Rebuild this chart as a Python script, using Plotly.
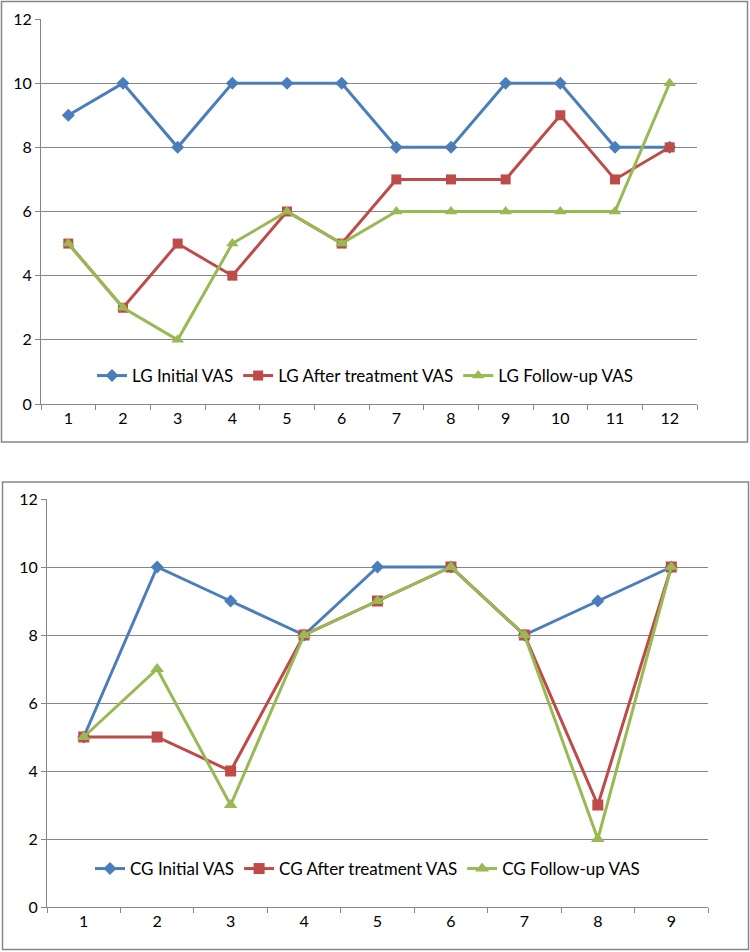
import plotly.graph_objects as go

lg_categories = [str(i) for i in range(1, 13)]
lg_initial = [9, 10, 8, 10, 10, 10, 8, 8, 10, 10, 8, 8]
lg_after = [5, 3, 5, 4, 6, 5, 7, 7, 7, 9, 7, 8]
lg_follow = [5, 3, 2, 5, 6, 5, 6, 6, 6, 6, 6, 10]

cg_categories = [str(i) for i in range(1, 10)]
cg_initial = [5, 10, 9, 8, 10, 10, 8, 9, 10]
cg_after = [5, 5, 4, 8, 9, 10, 8, 3, 10]
cg_follow = [5, 7, 3, 8, 9, 10, 8, 2, 10]

W, H = 750, 952
BLUE, RED, GREEN = "#4A7EBB", "#BE4B48", "#98B954"
GREY = "#868686"
FONT = "Lato, Carlito, sans-serif"


def px(x):
    return x / W


def py(y):
    return 1 - y / H


fig = go.Figure()

series_top = [("LG Initial VAS", lg_initial, BLUE, "diamond", 10),
              ("LG After treatment VAS", lg_after, RED, "square", 10),
              ("LG Follow-up VAS", lg_follow, GREEN, "triangle-up", 11)]
series_bot = [("CG Initial VAS", cg_initial, BLUE, "diamond", 10),
              ("CG After treatment VAS", cg_after, RED, "square", 11),
              ("CG Follow-up VAS", cg_follow, GREEN, "triangle-up", 12)]

for name, vals, col, sym, size in series_top:
    fig.add_trace(go.Scatter(x=lg_categories, y=vals, name=name, mode="lines+markers",
                             line=dict(color=col, width=3),
                             marker=dict(symbol=sym, size=size, color=col),
                             xaxis="x", yaxis="y", legend="legend"))
for name, vals, col, sym, size in series_bot:
    fig.add_trace(go.Scatter(x=cg_categories, y=vals, name=name, mode="lines+markers",
                             line=dict(color=col, width=3),
                             marker=dict(symbol=sym, size=size, color=col),
                             xaxis="x2", yaxis="y2", legend="legend2"))

axis_common = dict(showline=True, linecolor=GREY, linewidth=1, ticks="outside",
                   tickcolor=GREY, ticklen=5, automargin=False,
                   tickfont=dict(family=FONT, size=16, color="#000"))

legend_common = dict(orientation="h", xanchor="left", yanchor="middle",
                     bgcolor="rgba(255,255,255,0)", font=dict(family=FONT, size=17),
                     itemwidth=30, tracegroupgap=0)

fig.update_layout(
    template="none",
    width=W, height=H, autosize=False,
    margin=dict(l=0, r=0, t=0, b=0, pad=0, autoexpand=False),
    paper_bgcolor="white", plot_bgcolor="white",
    font=dict(family=FONT, size=16, color="#000"),
    xaxis=dict(domain=[px(41), px(697)], anchor="y", type="category",
               range=[-0.5, 11.5], tickson="boundaries", showgrid=False, **axis_common),
    yaxis=dict(domain=[py(404), py(19)], anchor="x", range=[0, 12], dtick=2,
               showgrid=True, gridcolor=GREY, gridwidth=1, zeroline=False, **axis_common),
    xaxis2=dict(domain=[px(47), px(708)], anchor="y2", type="category",
                range=[-0.5, 8.5], tickson="boundaries", showgrid=False, **axis_common),
    yaxis2=dict(domain=[py(907), py(499)], anchor="x2", range=[0, 12], dtick=2,
                showgrid=True, gridcolor=GREY, gridwidth=1, zeroline=False, **axis_common),
    legend=dict(x=px(92), y=py(376), **legend_common),
    legend2=dict(x=px(90), y=py(869), **legend_common),
    shapes=[
        dict(type="rect", xref="paper", yref="paper", x0=px(1.5), x1=px(747.5),
             y0=py(442), y1=py(1.5), line=dict(color=GREY, width=1.5)),
        dict(type="rect", xref="paper", yref="paper", x0=px(2.5), x1=px(748.5),
             y0=py(949.5), y1=py(482), line=dict(color=GREY, width=1.5)),
    ],
    showlegend=True,
)

fig.write_html("out.html", config={"displayModeBar": False},
               post_script="document.body.style.margin='0';document.body.style.overflow='hidden';")
